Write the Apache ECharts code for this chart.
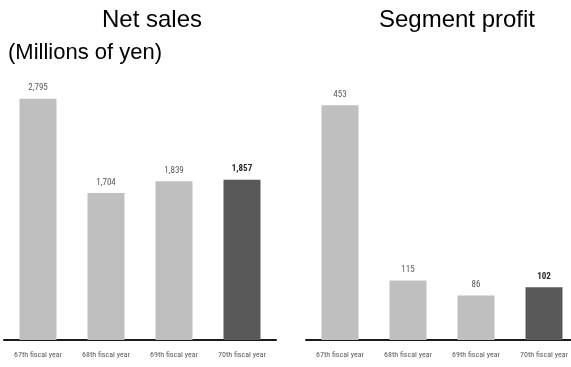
<!DOCTYPE html>
<html>
<head>
<meta charset="utf-8">
<script src="https://cdn.jsdelivr.net/npm/echarts@6/dist/echarts.min.js"></script>
<style>
html,body{margin:0;padding:0;background:#fff;}
#chart{width:571px;height:367px;}
</style>
</head>
<body>
<div id="chart"></div>
<script>
const categories = ['67th fiscal year', '68th fiscal year', '69th fiscal year', '70th fiscal year'];
const netSales = [2795, 1704, 1839, 1857];
const segmentProfit = [453, 115, 86, 102];
const titles = ['Net sales', 'Segment profit'];
const unitLabel = '(Millions of yen)';

const LIGHT = '#bfbfbf';
const DARK = '#595959';
const smallFont = '"Roboto Condensed", "DejaVu Sans Condensed", sans-serif';
const bigFont = '"Liberation Sans", Arial, sans-serif';

function barData(values) {
  return values.map((v, i) => {
    const last = i === values.length - 1;
    return {
      value: v,
      itemStyle: { color: last ? DARK : LIGHT },
      label: last ? { fontWeight: 'bold', color: '#262626' } : {}
    };
  });
}

const chart = echarts.init(document.getElementById('chart'), null, { renderer: 'canvas' });
const maxes = [3000, 500];

chart.setOption({
  backgroundColor: '#fff',
  animation: false,
  title: [
    { text: titles[0], left: 147, top: 3, textAlign: 'center',
      textStyle: { fontFamily: bigFont, fontSize: 24, fontWeight: 'normal', color: '#000' } },
    { text: titles[1], left: 452, top: 3, textAlign: 'center',
      textStyle: { fontFamily: bigFont, fontSize: 24, fontWeight: 'normal', color: '#000' } },
    { text: unitLabel, left: 3, top: 37,
      textStyle: { fontFamily: bigFont, fontSize: 22, fontWeight: 'normal', color: '#000' } }
  ],
  grid: [
    { left: 4, top: 81, width: 272, bottom: 27, outerBoundsMode: 'none', containLabel: false },
    { left: 306, top: 81, width: 272, bottom: 27, outerBoundsMode: 'none', containLabel: false }
  ],
  xAxis: [0, 1].map(i => ({
    type: 'category',
    gridIndex: i,
    data: categories,
    axisLine: { show: true, lineStyle: { color: '#1a1a1a', width: 2 } },
    axisTick: { show: false },
    axisLabel: { color: '#595959', fontSize: 8, fontFamily: smallFont, margin: 11, interval: 0 }
  })),
  yAxis: [0, 1].map(i => ({
    type: 'value',
    gridIndex: i,
    min: 0,
    max: maxes[i],
    show: false,
    splitLine: { show: false }
  })),
  series: [
    { type: 'bar', xAxisIndex: 0, yAxisIndex: 0, barWidth: 37, data: barData(netSales),
      label: { show: true, position: 'top', distance: 6, color: '#595959', fontSize: 9, fontFamily: smallFont,
        formatter: p => p.value.toLocaleString('en-US') } },
    { type: 'bar', xAxisIndex: 1, yAxisIndex: 1, barWidth: 37, data: barData(segmentProfit),
      label: { show: true, position: 'top', distance: 6, color: '#595959', fontSize: 9, fontFamily: smallFont,
        formatter: p => p.value.toLocaleString('en-US') } }
  ]
});
</script>
</body>
</html>
